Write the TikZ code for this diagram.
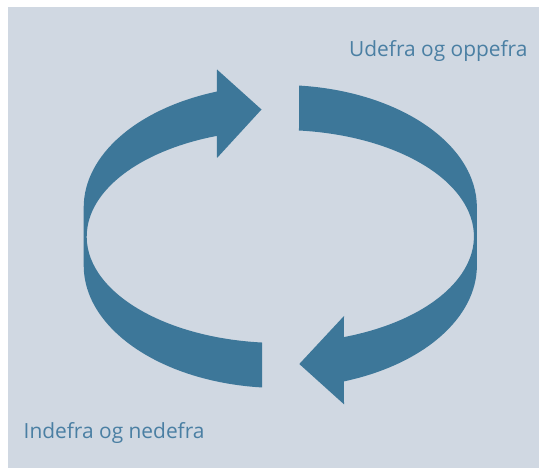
\documentclass[tikz,border=0pt]{standalone}
\usepackage{fontspec}
\setmainfont{Open Sans}
\definecolor{bgc}{HTML}{D0D8E2}
\definecolor{arrowc}{HTML}{3D7799}
\definecolor{textc}{HTML}{4A7FA3}
\begin{document}
\begin{tikzpicture}[x=1pt,y=-1pt,
  band/.style={fill=arrowc, draw=none},
  lbl/.style={anchor=base west, inner sep=0pt, text=textc, font=\fontsize{20.9}{23}\selectfont}]
\useasboundingbox (0,0) rectangle (539,468);
\fill[white] (0,0) rectangle (539,468);
\fill[bgc] (8,7) rectangle (539,468);
% left ring part with upward arrow
\fill[band] (262.08,342.53)
  arc[start angle=95.4, end angle=250.9, x radius=193.6, y radius=106.5]
  -- (217,158) -- (261.5,109.5) -- (217,69.5)
  -- (216.94,91.54)
  arc[start angle=251.2, end angle=180, x radius=196.6, y radius=122.5]
  -- ++(0,58)
  arc[start angle=180, end angle=95.3, x radius=196.6, y radius=122.5]
  -- cycle;
% right ring part with downward arrow
\fill[band] (299.14,85.57)
  arc[start angle=275.5, end angle=360, x radius=196.6, y radius=122.5]
  -- ++(0,58)
  arc[start angle=0, end angle=71.1, x radius=196.6, y radius=122.5]
  -- (344,404.3) -- (299.3,364) -- (344,316)
  -- (343.97,337.08)
  arc[start angle=70.8, end angle=-84.46, x radius=193.6, y radius=106.5]
  -- cycle;
\node[lbl] (top) at (349,56.7) {Udefra og oppefra};
\node[lbl] (bot) at (23.5,438.3) {Indefra og nedefra};
\end{tikzpicture}
\end{document}
